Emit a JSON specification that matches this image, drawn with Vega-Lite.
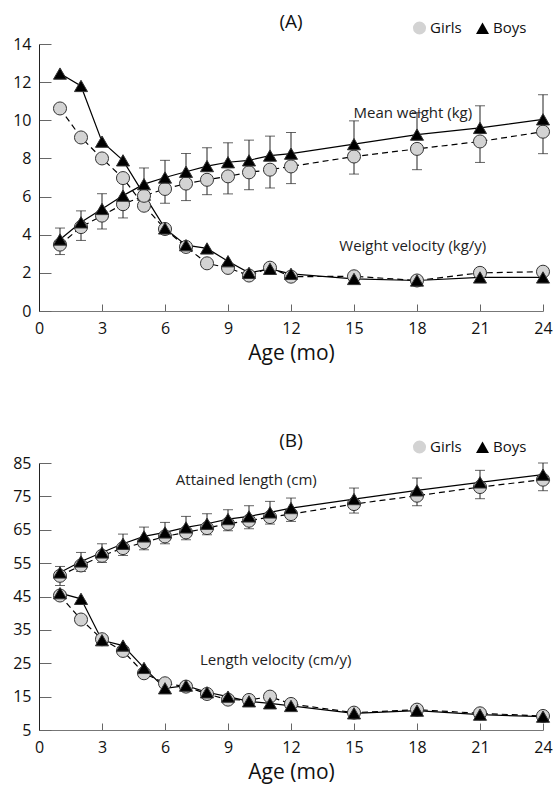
{
  "$schema": "https://vega.github.io/schema/vega-lite/v6.json",
  "background": "white",
  "padding": {"left": 12, "top": 13, "right": 2, "bottom": 2},
  "spacing": 69,
  "config": {
    "font": "Open Sans",
    "view": {"stroke": null},
    "axis": {"grid": false, "tickColor": "#666", "labelFont": "Open Sans", "labelFontSize": 16, "labelColor": "#111", "titleFont": "Open Sans", "titleFontSize": 21, "titleFontWeight": "normal", "titleColor": "#111", "labelFlush": false},
    "axisX": {"domainColor": "#777", "tickSize": -7, "labelPadding": 16, "titlePadding": 6},
    "axisY": {"domainColor": "#222", "tickSize": -12, "labelPadding": 20},
    "title": {"fontSize": 19, "fontWeight": "normal", "font": "Open Sans", "color": "#111", "offset": -12},
    "legend": {"labelFontSize": 15, "labelFont": "Open Sans", "labelColor": "#111", "symbolSize": 170, "symbolStrokeColor": "#333", "symbolStrokeWidth": 1, "columnPadding": 11, "labelOffset": 3}
  },
  "datasets": {
    "panelA": [
      {"measure": "weight", "sex": "Girls", "age": 1, "value": 3.48, "bound": 2.96},
      {"measure": "weight", "sex": "Girls", "age": 2, "value": 4.4, "bound": 3.7},
      {"measure": "weight", "sex": "Girls", "age": 3, "value": 5.0, "bound": 4.3},
      {"measure": "weight", "sex": "Girls", "age": 4, "value": 5.6, "bound": 4.88},
      {"measure": "weight", "sex": "Girls", "age": 5, "value": 6.04, "bound": 5.3},
      {"measure": "weight", "sex": "Girls", "age": 6, "value": 6.4, "bound": 5.65},
      {"measure": "weight", "sex": "Girls", "age": 7, "value": 6.68, "bound": 5.79},
      {"measure": "weight", "sex": "Girls", "age": 8, "value": 6.88, "bound": 6.1},
      {"measure": "weight", "sex": "Girls", "age": 9, "value": 7.06, "bound": 6.14},
      {"measure": "weight", "sex": "Girls", "age": 10, "value": 7.27, "bound": 6.36},
      {"measure": "weight", "sex": "Girls", "age": 11, "value": 7.41, "bound": 6.45},
      {"measure": "weight", "sex": "Girls", "age": 12, "value": 7.58, "bound": 6.68},
      {"measure": "weight", "sex": "Girls", "age": 15, "value": 8.1, "bound": 7.18},
      {"measure": "weight", "sex": "Girls", "age": 18, "value": 8.5, "bound": 7.41},
      {"measure": "weight", "sex": "Girls", "age": 21, "value": 8.89, "bound": 7.79},
      {"measure": "weight", "sex": "Girls", "age": 24, "value": 9.4, "bound": 8.25},
      {"measure": "weight", "sex": "Boys", "age": 1, "value": 3.75, "bound": 4.35},
      {"measure": "weight", "sex": "Boys", "age": 2, "value": 4.65, "bound": 5.25},
      {"measure": "weight", "sex": "Boys", "age": 3, "value": 5.35, "bound": 6.15},
      {"measure": "weight", "sex": "Boys", "age": 4, "value": 6.05, "bound": 6.8},
      {"measure": "weight", "sex": "Boys", "age": 5, "value": 6.65, "bound": 7.5},
      {"measure": "weight", "sex": "Boys", "age": 6, "value": 7.0, "bound": 7.9},
      {"measure": "weight", "sex": "Boys", "age": 7, "value": 7.3, "bound": 8.26},
      {"measure": "weight", "sex": "Boys", "age": 8, "value": 7.6, "bound": 8.56},
      {"measure": "weight", "sex": "Boys", "age": 9, "value": 7.8, "bound": 8.82},
      {"measure": "weight", "sex": "Boys", "age": 10, "value": 7.9, "bound": 8.96},
      {"measure": "weight", "sex": "Boys", "age": 11, "value": 8.15, "bound": 9.17},
      {"measure": "weight", "sex": "Boys", "age": 12, "value": 8.25, "bound": 9.36},
      {"measure": "weight", "sex": "Boys", "age": 15, "value": 8.75, "bound": 9.97},
      {"measure": "weight", "sex": "Boys", "age": 18, "value": 9.25, "bound": 10.4},
      {"measure": "weight", "sex": "Boys", "age": 21, "value": 9.6, "bound": 10.76},
      {"measure": "weight", "sex": "Boys", "age": 24, "value": 10.05, "bound": 11.34},
      {"measure": "velocity", "sex": "Girls", "age": 1, "value": 10.62},
      {"measure": "velocity", "sex": "Girls", "age": 2, "value": 9.1},
      {"measure": "velocity", "sex": "Girls", "age": 3, "value": 8.0},
      {"measure": "velocity", "sex": "Girls", "age": 4, "value": 6.97},
      {"measure": "velocity", "sex": "Girls", "age": 5, "value": 5.52},
      {"measure": "velocity", "sex": "Girls", "age": 6, "value": 4.3},
      {"measure": "velocity", "sex": "Girls", "age": 7, "value": 3.36},
      {"measure": "velocity", "sex": "Girls", "age": 8, "value": 2.5},
      {"measure": "velocity", "sex": "Girls", "age": 9, "value": 2.26},
      {"measure": "velocity", "sex": "Girls", "age": 10, "value": 1.86},
      {"measure": "velocity", "sex": "Girls", "age": 11, "value": 2.27},
      {"measure": "velocity", "sex": "Girls", "age": 12, "value": 1.8},
      {"measure": "velocity", "sex": "Girls", "age": 15, "value": 1.82},
      {"measure": "velocity", "sex": "Girls", "age": 18, "value": 1.6},
      {"measure": "velocity", "sex": "Girls", "age": 21, "value": 2.0},
      {"measure": "velocity", "sex": "Girls", "age": 24, "value": 2.06},
      {"measure": "velocity", "sex": "Boys", "age": 1, "value": 12.45},
      {"measure": "velocity", "sex": "Boys", "age": 2, "value": 11.8},
      {"measure": "velocity", "sex": "Boys", "age": 3, "value": 8.88},
      {"measure": "velocity", "sex": "Boys", "age": 4, "value": 7.9},
      {"measure": "velocity", "sex": "Boys", "age": 5, "value": 6.1},
      {"measure": "velocity", "sex": "Boys", "age": 6, "value": 4.33},
      {"measure": "velocity", "sex": "Boys", "age": 7, "value": 3.45},
      {"measure": "velocity", "sex": "Boys", "age": 8, "value": 3.28},
      {"measure": "velocity", "sex": "Boys", "age": 9, "value": 2.61},
      {"measure": "velocity", "sex": "Boys", "age": 10, "value": 2.0},
      {"measure": "velocity", "sex": "Boys", "age": 11, "value": 2.21},
      {"measure": "velocity", "sex": "Boys", "age": 12, "value": 1.95},
      {"measure": "velocity", "sex": "Boys", "age": 15, "value": 1.68},
      {"measure": "velocity", "sex": "Boys", "age": 18, "value": 1.6},
      {"measure": "velocity", "sex": "Boys", "age": 21, "value": 1.76},
      {"measure": "velocity", "sex": "Boys", "age": 24, "value": 1.76}
    ],
    "panelB": [
      {"measure": "length", "sex": "Girls", "age": 1, "value": 51.2, "bound": 48.3},
      {"measure": "length", "sex": "Girls", "age": 2, "value": 54.3, "bound": 52.5},
      {"measure": "length", "sex": "Girls", "age": 3, "value": 57.2, "bound": 55.2},
      {"measure": "length", "sex": "Girls", "age": 4, "value": 59.5, "bound": 57.3},
      {"measure": "length", "sex": "Girls", "age": 5, "value": 61.2, "bound": 59.0},
      {"measure": "length", "sex": "Girls", "age": 6, "value": 63.0, "bound": 60.8},
      {"measure": "length", "sex": "Girls", "age": 7, "value": 64.2, "bound": 62.0},
      {"measure": "length", "sex": "Girls", "age": 8, "value": 65.5, "bound": 63.5},
      {"measure": "length", "sex": "Girls", "age": 9, "value": 66.8, "bound": 64.7},
      {"measure": "length", "sex": "Girls", "age": 10, "value": 67.7, "bound": 65.3},
      {"measure": "length", "sex": "Girls", "age": 11, "value": 68.8, "bound": 66.7},
      {"measure": "length", "sex": "Girls", "age": 12, "value": 69.7, "bound": 67.5},
      {"measure": "length", "sex": "Girls", "age": 15, "value": 72.7, "bound": 70.0},
      {"measure": "length", "sex": "Girls", "age": 18, "value": 75.2, "bound": 72.2},
      {"measure": "length", "sex": "Girls", "age": 21, "value": 77.8, "bound": 74.3},
      {"measure": "length", "sex": "Girls", "age": 24, "value": 80.0, "bound": 76.7},
      {"measure": "length", "sex": "Boys", "age": 1, "value": 52.2, "bound": 54.0},
      {"measure": "length", "sex": "Boys", "age": 2, "value": 55.5, "bound": 58.2},
      {"measure": "length", "sex": "Boys", "age": 3, "value": 58.2, "bound": 60.8},
      {"measure": "length", "sex": "Boys", "age": 4, "value": 60.8, "bound": 63.7},
      {"measure": "length", "sex": "Boys", "age": 5, "value": 63.0, "bound": 65.8},
      {"measure": "length", "sex": "Boys", "age": 6, "value": 64.2, "bound": 67.2},
      {"measure": "length", "sex": "Boys", "age": 7, "value": 65.7, "bound": 69.0},
      {"measure": "length", "sex": "Boys", "age": 8, "value": 66.8, "bound": 69.8},
      {"measure": "length", "sex": "Boys", "age": 9, "value": 68.2, "bound": 71.0},
      {"measure": "length", "sex": "Boys", "age": 10, "value": 69.0, "bound": 72.2},
      {"measure": "length", "sex": "Boys", "age": 11, "value": 70.2, "bound": 73.5},
      {"measure": "length", "sex": "Boys", "age": 12, "value": 71.5, "bound": 74.5},
      {"measure": "length", "sex": "Boys", "age": 15, "value": 74.2, "bound": 77.5},
      {"measure": "length", "sex": "Boys", "age": 18, "value": 76.8, "bound": 80.5},
      {"measure": "length", "sex": "Boys", "age": 21, "value": 79.2, "bound": 82.8},
      {"measure": "length", "sex": "Boys", "age": 24, "value": 81.5, "bound": 85.0},
      {"measure": "velocity", "sex": "Girls", "age": 1, "value": 45.3},
      {"measure": "velocity", "sex": "Girls", "age": 2, "value": 38.1},
      {"measure": "velocity", "sex": "Girls", "age": 3, "value": 32.2},
      {"measure": "velocity", "sex": "Girls", "age": 4, "value": 28.7},
      {"measure": "velocity", "sex": "Girls", "age": 5, "value": 22.0},
      {"measure": "velocity", "sex": "Girls", "age": 6, "value": 19.0},
      {"measure": "velocity", "sex": "Girls", "age": 7, "value": 18.0},
      {"measure": "velocity", "sex": "Girls", "age": 8, "value": 15.8},
      {"measure": "velocity", "sex": "Girls", "age": 9, "value": 14.1},
      {"measure": "velocity", "sex": "Girls", "age": 10, "value": 14.0},
      {"measure": "velocity", "sex": "Girls", "age": 11, "value": 15.0},
      {"measure": "velocity", "sex": "Girls", "age": 12, "value": 12.8},
      {"measure": "velocity", "sex": "Girls", "age": 15, "value": 10.2},
      {"measure": "velocity", "sex": "Girls", "age": 18, "value": 11.1},
      {"measure": "velocity", "sex": "Girls", "age": 21, "value": 10.0},
      {"measure": "velocity", "sex": "Girls", "age": 24, "value": 9.2},
      {"measure": "velocity", "sex": "Boys", "age": 1, "value": 46.0},
      {"measure": "velocity", "sex": "Boys", "age": 2, "value": 44.3},
      {"measure": "velocity", "sex": "Boys", "age": 3, "value": 31.9},
      {"measure": "velocity", "sex": "Boys", "age": 4, "value": 30.3},
      {"measure": "velocity", "sex": "Boys", "age": 5, "value": 23.6},
      {"measure": "velocity", "sex": "Boys", "age": 6, "value": 17.5},
      {"measure": "velocity", "sex": "Boys", "age": 7, "value": 18.3},
      {"measure": "velocity", "sex": "Boys", "age": 8, "value": 16.3},
      {"measure": "velocity", "sex": "Boys", "age": 9, "value": 15.0},
      {"measure": "velocity", "sex": "Boys", "age": 10, "value": 13.6},
      {"measure": "velocity", "sex": "Boys", "age": 11, "value": 13.0},
      {"measure": "velocity", "sex": "Boys", "age": 12, "value": 12.2},
      {"measure": "velocity", "sex": "Boys", "age": 15, "value": 10.0},
      {"measure": "velocity", "sex": "Boys", "age": 18, "value": 10.8},
      {"measure": "velocity", "sex": "Boys", "age": 21, "value": 9.6},
      {"measure": "velocity", "sex": "Boys", "age": 24, "value": 9.0}
    ]
  },
  "vconcat": [
    {
      "title": {"text": "(A)"},
      "width": 504,
      "height": 267,
      "data": {"name": "panelA"},
      "encoding": {
        "x": {"field": "age", "type": "quantitative", "scale": {"domain": [0, 24], "nice": false}, "axis": {"values": [0, 3, 6, 9, 12, 15, 18, 21, 24], "title": "Age (mo)"}},
        "y": {"field": "value", "type": "quantitative", "scale": {"domain": [0, 14], "nice": false}, "axis": {"values": [0, 2, 4, 6, 8, 10, 12, 14], "title": null}}
      },
      "layer": [
        {"transform": [{"filter": "isValid(datum.bound)"}], "mark": {"type": "rule", "color": "#222", "strokeWidth": 1}, "encoding": {"y2": {"field": "bound"}}},
        {"transform": [{"filter": "isValid(datum.bound)"}], "mark": {"type": "tick", "orient": "horizontal", "size": 10, "thickness": 1, "color": "#222"}, "encoding": {"y": {"field": "bound", "type": "quantitative"}}},
        {"transform": [{"filter": "datum.sex === 'Girls'"}], "mark": {"type": "line", "color": "black", "strokeWidth": 1.2, "strokeDash": [6, 4]}, "encoding": {"detail": {"field": "measure"}}},
        {"transform": [{"filter": "datum.sex === 'Boys'"}], "mark": {"type": "line", "color": "black", "strokeWidth": 1.2}, "encoding": {"detail": {"field": "measure"}}},
        {"transform": [{"filter": "datum.measure === 'velocity'"}], "mark": {"type": "point", "filled": true, "stroke": "#333", "strokeWidth": 1, "opacity": 1, "size": 170},
          "encoding": {
            "shape": {"field": "sex", "type": "nominal", "scale": {"domain": ["Girls", "Boys"], "range": ["circle", "triangle-up"]}, "legend": {"title": null, "orient": "none", "legendX": 373, "legendY": -24, "direction": "horizontal", "encode": {"symbols": {"update": {"stroke": {"value": "#333"}, "strokeWidth": {"value": 1}}}}}},
            "fill": {"field": "sex", "type": "nominal", "scale": {"domain": ["Girls", "Boys"], "range": ["#d3d3d3", "#000000"]}, "legend": {"title": null, "orient": "none", "legendX": 373, "legendY": -24, "direction": "horizontal", "encode": {"symbols": {"update": {"stroke": {"value": "#333"}, "strokeWidth": {"value": 1}}}}}},
            "order": {"field": "sex", "sort": "descending"}
          }},
        {"transform": [{"filter": "datum.measure === 'weight'"}], "mark": {"type": "point", "filled": true, "stroke": "#333", "strokeWidth": 1, "opacity": 1, "size": 170},
          "encoding": {
            "shape": {"field": "sex", "type": "nominal", "legend": {"title": null, "orient": "none", "legendX": 373, "legendY": -24, "direction": "horizontal", "encode": {"symbols": {"update": {"stroke": {"value": "#333"}, "strokeWidth": {"value": 1}}}}}},
            "fill": {"field": "sex", "type": "nominal", "legend": {"title": null, "orient": "none", "legendX": 373, "legendY": -24, "direction": "horizontal", "encode": {"symbols": {"update": {"stroke": {"value": "#333"}, "strokeWidth": {"value": 1}}}}}},
            "order": {"field": "sex", "sort": "descending"}
          }},
        {"data": {"values": [{"label": "Mean weight (kg)", "age": 17.8, "value": 10.4}, {"label": "Weight velocity (kg/y)", "age": 17.8, "value": 3.4}]},
          "mark": {"type": "text", "fontSize": 15, "color": "#222", "font": "Open Sans"},
          "encoding": {"text": {"field": "label"}}}
      ]
    },
    {
      "title": {"text": "(B)"},
      "width": 504,
      "height": 267,
      "data": {"name": "panelB"},
      "encoding": {
        "x": {"field": "age", "type": "quantitative", "scale": {"domain": [0, 24], "nice": false}, "axis": {"values": [0, 3, 6, 9, 12, 15, 18, 21, 24], "title": "Age (mo)"}},
        "y": {"field": "value", "type": "quantitative", "scale": {"domain": [5, 85], "nice": false, "zero": false}, "axis": {"values": [5, 15, 25, 35, 45, 55, 65, 75, 85], "title": null}}
      },
      "layer": [
        {"transform": [{"filter": "isValid(datum.bound)"}], "mark": {"type": "rule", "color": "#222", "strokeWidth": 1}, "encoding": {"y2": {"field": "bound"}}},
        {"transform": [{"filter": "isValid(datum.bound)"}], "mark": {"type": "tick", "orient": "horizontal", "size": 10, "thickness": 1, "color": "#222"}, "encoding": {"y": {"field": "bound", "type": "quantitative"}}},
        {"transform": [{"filter": "datum.sex === 'Girls'"}], "mark": {"type": "line", "color": "black", "strokeWidth": 1.2, "strokeDash": [6, 4]}, "encoding": {"detail": {"field": "measure"}}},
        {"transform": [{"filter": "datum.sex === 'Boys'"}], "mark": {"type": "line", "color": "black", "strokeWidth": 1.2}, "encoding": {"detail": {"field": "measure"}}},
        {"transform": [{"filter": "datum.measure === 'velocity'"}], "mark": {"type": "point", "filled": true, "stroke": "#333", "strokeWidth": 1, "opacity": 1, "size": 170},
          "encoding": {
            "shape": {"field": "sex", "type": "nominal", "scale": {"domain": ["Girls", "Boys"], "range": ["circle", "triangle-up"]}, "legend": {"title": null, "orient": "none", "legendX": 373, "legendY": -24, "direction": "horizontal", "encode": {"symbols": {"update": {"stroke": {"value": "#333"}, "strokeWidth": {"value": 1}}}}}},
            "fill": {"field": "sex", "type": "nominal", "scale": {"domain": ["Girls", "Boys"], "range": ["#d3d3d3", "#000000"]}, "legend": {"title": null, "orient": "none", "legendX": 373, "legendY": -24, "direction": "horizontal", "encode": {"symbols": {"update": {"stroke": {"value": "#333"}, "strokeWidth": {"value": 1}}}}}},
            "order": {"field": "sex", "sort": "descending"}
          }},
        {"transform": [{"filter": "datum.measure === 'length'"}], "mark": {"type": "point", "filled": true, "stroke": "#333", "strokeWidth": 1, "opacity": 1, "size": 170},
          "encoding": {
            "shape": {"field": "sex", "type": "nominal", "legend": {"title": null, "orient": "none", "legendX": 373, "legendY": -24, "direction": "horizontal", "encode": {"symbols": {"update": {"stroke": {"value": "#333"}, "strokeWidth": {"value": 1}}}}}},
            "fill": {"field": "sex", "type": "nominal", "legend": {"title": null, "orient": "none", "legendX": 373, "legendY": -24, "direction": "horizontal", "encode": {"symbols": {"update": {"stroke": {"value": "#333"}, "strokeWidth": {"value": 1}}}}}},
            "order": {"field": "sex", "sort": "descending"}
          }},
        {"data": {"values": [{"label": "Attained length (cm)", "age": 9.87, "value": 80}, {"label": "Length velocity (cm/y)", "age": 11.27, "value": 26}]},
          "mark": {"type": "text", "fontSize": 15, "color": "#222", "font": "Open Sans"},
          "encoding": {"text": {"field": "label"}}}
      ]
    }
  ],
  "resolve": {
    "scale": {"y": "independent", "fill": "independent", "shape": "independent"},
    "legend": {"fill": "independent", "shape": "independent"}
  }
}
